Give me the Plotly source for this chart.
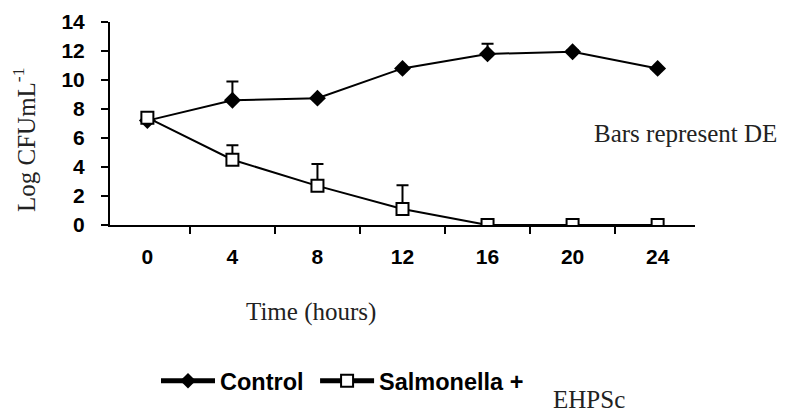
import plotly.graph_objects as go

# Data
time_labels = ["0", "4", "8", "12", "16", "20", "24"]
control = [7.2, 8.6, 8.75, 10.8, 11.8, 11.95, 10.8]
control_err = [0, 1.3, 0, 0, 0.7, 0.1, 0]
salmonella = [7.4, 4.5, 2.7, 1.1, 0, 0, 0]
salmonella_err = [0, 1.0, 1.5, 1.65, 0, 0, 0]
y_ticks = [0, 2, 4, 6, 8, 10, 12, 14]

SANS = "Liberation Sans, Arial, sans-serif"
SERIF = "Liberation Serif, Times New Roman, serif"

fig = go.Figure()
fig.add_trace(go.Scatter(
    x=time_labels, y=control, name="Control\u00a0", mode="lines+markers",
    line=dict(color="black", width=2),
    marker=dict(symbol="diamond", size=13, color="black"),
    error_y=dict(type="data", array=control_err, arrayminus=[0] * len(control_err),
                 symmetric=False, color="black", thickness=2, width=6),
))
fig.add_trace(go.Scatter(
    x=time_labels, y=salmonella, name="Salmonella +", mode="lines+markers",
    line=dict(color="black", width=2),
    marker=dict(symbol="square", size=12, color="white", line=dict(color="black", width=2)),
    error_y=dict(type="data", array=salmonella_err, arrayminus=[0] * len(salmonella_err),
                 symmetric=False, color="black", thickness=2, width=6),
))

# page offset of the plot div (browser body margin)
OFF = 8
W, H = 786, 415
# plot area in screen pixels
X0, X1, Y0, Y1 = 110, 695, 22, 225
L = X0 - OFF
T = Y0 - OFF
R = W - (X1 - OFF)
B = H - (Y1 - OFF)
pw = W - L - R
ph = H - T - B

def px(x):
    return (x - OFF - L) / pw

def py(y):
    return (H - B - (y - OFF)) / ph

fig.update_layout(
    width=W, height=H,
    margin=dict(l=L, r=R, t=T, b=B, autoexpand=False),
    paper_bgcolor="white", plot_bgcolor="white",
    showlegend=True,
    legend=dict(orientation="h", x=px(156), y=py(381), xanchor="left", yanchor="middle",
                font=dict(family=SANS, size=23.5, color="black", weight="bold"),
                bgcolor="rgba(0,0,0,0)", itemsizing="constant", itemwidth=54),
    xaxis=dict(type="category", showline=True, linecolor="black", linewidth=2,
               ticks="outside", ticklen=7, tickwidth=2, tickcolor="black",
               tickson="boundaries", showgrid=False, zeroline=False, automargin=False,
               tickfont=dict(family=SANS, size=21, color="black", weight="bold"),
               ticklabelstandoff=12),
    yaxis=dict(range=[0, 14], tickvals=y_ticks, showline=True, linecolor="black", linewidth=2,
               ticks="outside", ticklen=7, tickwidth=2, tickcolor="black",
               showgrid=False, zeroline=False, automargin=False,
               tickfont=dict(family=SANS, size=21, color="black", weight="bold"),
               ticklabelstandoff=12),
    annotations=[
        dict(text="Time (hours)", x=px(311), y=py(312), xref="paper", yref="paper",
             xanchor="center", yanchor="middle",
             showarrow=False, font=dict(family=SERIF, size=25, color="#222")),
        dict(text="Log CFUmL<sup>-1</sup>", x=px(24), y=py(140), xref="paper", yref="paper",
             xanchor="center", yanchor="middle",
             showarrow=False, textangle=-90, font=dict(family=SERIF, size=25, color="#222")),
        dict(text="Bars represent DE", x=px(685), y=py(133), xref="paper", yref="paper",
             xanchor="center", yanchor="middle",
             showarrow=False, font=dict(family=SERIF, size=25, color="#222")),
        dict(text="EHPSc", x=px(589), y=py(399), xref="paper", yref="paper",
             xanchor="center", yanchor="middle",
             showarrow=False, font=dict(family=SERIF, size=25, color="#222")),
    ],
)

fig.write_html("out.html")
